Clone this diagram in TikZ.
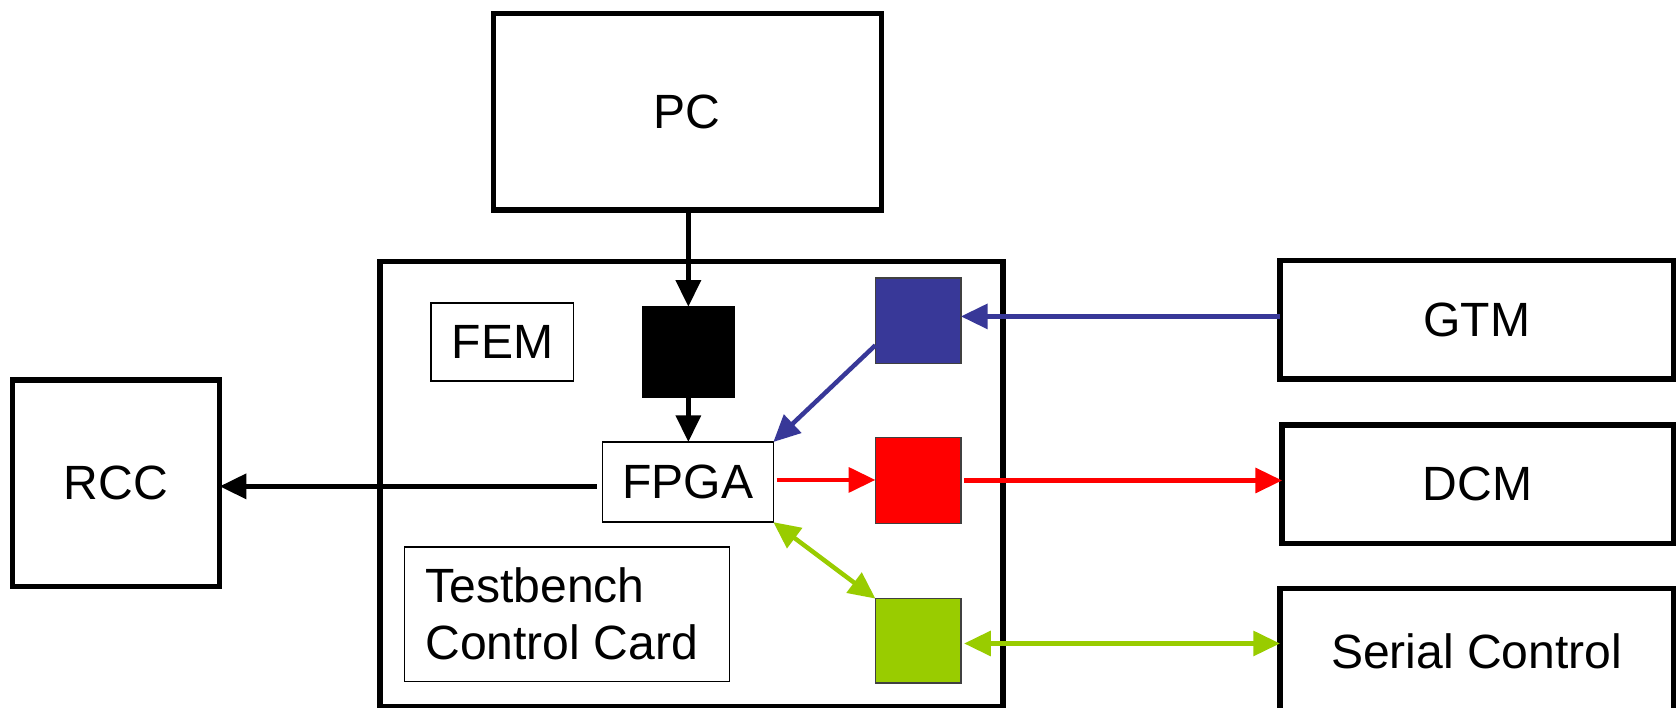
\documentclass[tikz,border=0pt]{standalone}
\usepackage{fontspec}
\setmainfont{Liberation Sans}
\usetikzlibrary{arrows.meta}
\definecolor{cblue}{HTML}{383898}
\definecolor{cred}{HTML}{FF0000}
\definecolor{cgreen}{HTML}{99CC00}
\begin{document}
\begin{tikzpicture}[x=0.1mm,y=-0.1mm,
  every node/.style={font=\fontsize{12.8}{15}\selectfont, outer sep=0pt, inner sep=0pt},
  bigbox/.style={draw, line width=0.5mm, fill=white},
  thinbox/.style={draw, line width=0.15mm},
  chip/.style={draw=black!75, line width=0.12mm, minimum width=8mm, minimum height=8mm},
  tip/.style={-{Triangle[length=2.5mm,width=2.3mm]}},
  dtip/.style={{Triangle[length=2.5mm,width=2.3mm]}-{Triangle[length=2.5mm,width=2.3mm]}},
  blk/.style={line width=0.45mm, black},
  col/.style={line width=0.42mm}]
\useasboundingbox (0,0) rectangle (1568,662);
% big boxes
\node[bigbox, minimum width=36.3mm, minimum height=18.4mm] (PC) at (643,104.5) {PC};
\node[bigbox, minimum width=58.3mm, minimum height=41.7mm] (board) at (647,453) {};
\node[bigbox, minimum width=19.4mm, minimum height=19.3mm] (RCC) at (108.5,452) {RCC};
\node[bigbox, minimum width=36.8mm, minimum height=11.1mm] (GTM) at (1381.5,299) {GTM};
\node[bigbox, minimum width=36.6mm, minimum height=11.1mm] (DCM) at (1382.5,453) {DCM};
\node[bigbox, minimum width=36.8mm, minimum height=12.4mm] (SC) at (1381.5,612.5) {\raisebox{0.65mm}{Serial Control}};
% inner boxes
\node[thinbox, minimum width=13.3mm, minimum height=7.3mm] (FEM) at (470,320) {FEM};
\node[thinbox, minimum width=16.0mm, minimum height=7.5mm] (FPGA) at (643.5,451) {FPGA};
\node[thinbox, minimum width=30.4mm, minimum height=12.6mm] (TCC) at (530.5,574.5) {};
\node[anchor=north west, align=left, font=\fontsize{12.8}{15.2}\selectfont] (TCCt) at (398,531) {Testbench\\Control Card};
\node[fill=black, draw=black, minimum width=8.6mm, minimum height=8.5mm] (blackchip) at (644,329.5) {};
\node[chip, fill=cblue] (blue) at (859,300) {};
\node[chip, fill=cred] (red) at (859,449.5) {};
\node[chip, fill=cgreen, minimum height=7.9mm] (green) at (859,599.5) {};
% connectors
\draw[blk, tip] (PC.south -| blackchip.north) -- (blackchip.north);
\draw[blk, tip] (blackchip.south) -- (FPGA.north -| blackchip.south);
\draw[blk, tip] ([xshift=-0.5mm,yshift=-0.4mm]FPGA.west) -- ([yshift=-0.4mm]FPGA.west -| RCC.east);
\draw[col, cred, tip] ([xshift=0.3mm,yshift=0.2mm]FPGA.east) -- ([yshift=0.2mm]FPGA.east -| red.west);
\draw[col, cred, tip] ([xshift=0.3mm]red.east) -- (red.east -| DCM.west);
\draw[col, cblue, tip] ([yshift=0.3mm]GTM.west) -- ([yshift=0.3mm]GTM.west -| blue.east);
\draw[col, cblue, tip] ([yshift=-2.3mm]blue.west) -- (FPGA.north east);
\draw[col, cgreen, dtip] (FPGA.south east) -- (green.north west);
\draw[col, cgreen, dtip] ([xshift=0.3mm,yshift=-0.25mm]green.east) -- ([yshift=-0.25mm]green.east -| SC.west);
\end{tikzpicture}
\end{document}
